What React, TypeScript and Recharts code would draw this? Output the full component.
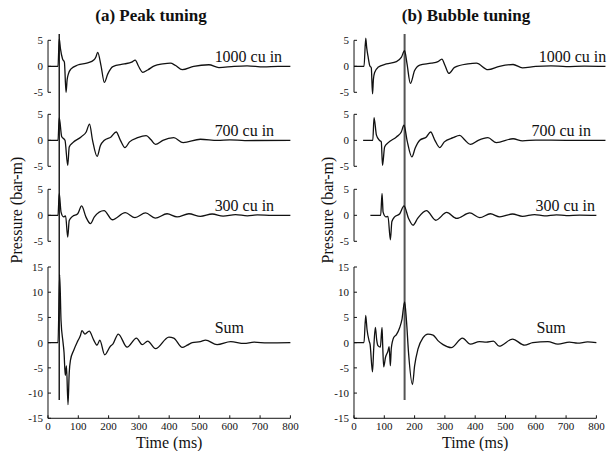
import { LineChart, Line, XAxis, YAxis, ReferenceLine, ReferenceDot } from "recharts";

const FONT = '"Liberation Serif", "Times New Roman", Times, serif';
const INK = "#111";

// ---- traces: time (ms) / pressure (bar-m) ----

// (a) peak tuning
const peak1000Time = [0, 33, 37, 41, 48, 54, 59.5, 63, 67, 76, 98, 131, 151, 158, 164, 175, 186, 197, 214, 252, 276, 288, 298, 313, 329, 351, 379, 404, 420, 443, 481, 531, 564, 614, 657, 712, 760, 800];
const peak1000P = [0, 0, 5.3, 3.4, 1.4, 0.8, -5.0, -2.6, -1.5, -0.5, 0.25, 0.65, 1.2, 1.8, 2.7, 0.1, -3.1, -1.5, -0.05, 0.45, 0.8, 1.2, 0.1, -1.15, -0.7, 0.1, 0.45, 0.6, 0.2, -0.65, 0, 0.3, -0.25, 0, 0.1, -0.1, 0, 0];

const peak700Time = [0, 33, 37, 45, 56, 65, 70, 81, 109, 126, 137, 147, 162, 173, 186, 208, 225, 239, 254, 269, 296, 324, 340, 355, 379, 415, 446, 503, 560, 600, 650, 800];
const peak700P = [0, 0, 4.35, 0.75, 0, -4.8, -1.3, -0.5, 0.65, 1.6, 3.1, 0, -3.1, -1, 0, 0.65, 1.6, 0, -1.4, -0.3, 0.5, 0.9, 0.1, -0.8, 0, 0.5, -0.45, 0.2, 0, 0.1, -0.05, 0];

const peak300Time = [0, 33, 37, 43, 51, 58, 65, 70, 81, 98, 111, 125, 140, 153, 185, 212, 255, 287, 322, 354, 393, 426, 465, 503, 542, 578, 619, 658, 691, 740, 800];
const peak300P = [0, 0, 4.2, 0.6, -0.3, -0.1, -4.2, -1.0, -0.2, 0.3, 1.8, -0.3, -1.6, -0.3, 0.9, -0.85, 0.5, -0.45, 0.45, -0.55, 0.3, -0.3, 0.3, -0.2, 0.25, -0.15, 0.15, -0.1, 0.08, 0, 0];

const peakSumTime = [0, 33, 38.5, 43, 49.5, 53, 57, 61, 66, 70, 74, 85, 98, 107, 112, 122, 136, 151, 162, 171, 187, 206, 214, 232, 261, 292, 311, 329, 355, 399, 415, 443, 460, 476, 503, 520, 558, 603, 647, 680, 724, 800];
const peakSumP = [0, 0, 13.5, 4.4, 0.1, -2, -6.5, -4.6, -12.3, -6, -3.5, -1.5, 0.3, 1.4, 2.4, 1.7, 2.3, 0.5, -0.5, 0.5, -2.4, -0.7, -0.3, 1.7, -0.9, 0.9, -0.4, 0.3, -1.2, 1.1, 0.9, -0.95, -0.5, 0, 0.2, 0.5, -0.4, 0.2, -0.15, 0.1, -0.05, 0];

// (b) bubble tuning
const bubble1000Time = [0, 33, 38.6, 42, 46, 52, 57, 61, 64, 68, 79, 107, 140, 156, 167, 175, 186, 200, 217, 255, 277, 290, 300, 313, 332, 376, 404, 442, 480, 525, 556, 600, 650, 700, 760, 830];
const bubble1000P = [0, 0, 5.4, 3.5, 2.0, 0.1, -0.3, -5.3, -2.5, -1.2, -0.2, 0.45, 0.9, 1.7, 3.0, 0.45, -3.3, -0.8, 0.25, 0.6, 0.9, 1.4, 0.2, -1.35, -0.2, 0.45, 0.6, -0.65, 0, 0.35, -0.3, 0, 0.1, -0.05, 0.05, 0];

const bubble700Time = [30, 62, 66, 74, 84, 90, 94, 101, 112, 140, 156, 165, 175, 191, 202, 217, 239, 253, 267, 283, 298, 327, 349, 365, 384, 410, 442, 470, 525, 556, 600, 700, 830];
const bubble700P = [0, 0, 4.35, 1.0, 0, -0.3, -4.8, -1.3, -0.5, 0.65, 1.6, 2.9, 0, -3.2, -1.5, 0, 0.65, 1.6, 0, -1.4, -0.3, 0.5, 0.95, 0.1, -0.8, 0, 0.5, -0.45, 0.3, -0.1, 0.05, 0, 0];

const bubble300Time = [54, 88, 92.5, 96, 105, 112, 120, 125, 134, 151, 165, 180, 195, 210, 239, 270, 306, 339, 382, 415, 450, 481, 523, 556, 596, 629, 668, 701, 745, 800];
const bubble300P = [0, 0, 4.2, 0.6, -0.3, -0.2, -4.7, -1.2, -0.3, 0.3, 1.8, -0.6, -1.9, -0.6, 0.9, -0.95, 0.55, -0.6, 0.45, -0.45, 0.3, -0.3, 0.25, -0.2, 0.15, -0.1, 0.1, -0.05, 0.05, 0];

const bubbleSumTime = [0, 33, 38.6, 43, 50, 53, 61, 65, 70.5, 75, 79, 87, 92.5, 95, 98, 104, 112, 116, 120, 123, 131, 140, 151, 158, 167, 173, 180, 193, 200, 211, 228, 244, 261, 277, 294, 321, 358, 384, 414, 437, 460, 479, 523, 563, 590, 640, 673, 711, 738, 771, 800];
const bubbleSumP = [0, 0, 5.4, 2.6, 0.3, -0.3, -5.8, -1.3, 3.0, 0.5, -0.6, -0.9, 3.0, -1.0, -4.8, -2.9, -1.7, -0.8, -4.6, -1.2, 1.0, 1.6, 3.0, 4.5, 8.1, 4.5, -2.0, -8.3, -4.6, -1.3, 1.0, 1.7, 1.5, 0.4, -0.4, -1.0, 0.9, -0.3, 0.2, 0.1, 0.3, -0.7, 0.7, -0.5, 0, 0.2, -0.3, 0.1, -0.1, 0.15, 0];

// ---- labels & ticks ----
const PANEL_TITLES = ["(a) Peak tuning", "(b) Bubble tuning"];
const TRACE_NAMES = ["1000 cu in", "700 cu in", "300 cu in", "Sum"];
const peakLabelTime = [550, 550, 550, 550];
const bubbleLabelTime = [610, 586, 599, 602];
const LABEL_LEVEL = [1.9, 1.9, 2.0, 3.1];
const MARKER_TIME = [37, 167];
const TIME_TICKS = [0, 100, 200, 300, 400, 500, 600, 700, 800];
const SMALL_TICKS = [-5, 0, 5];
const SUM_TICKS = [-15, -10, -5, 0, 5, 10, 15];

// ---- layout (pixels) ----
const PX_PER_MS = 0.303;
const PLOT_LEFT = [47.7, 354.3];
const TITLE_X = [151, 466];
const YLABEL_X = [17, 328];
const AXIS_W = 40;
const ZERO_Y = [66, 140.2, 215.1];
const UNIT_PX = 5.2;
const PAD = 6.6;
const SUM_TOP = 266.7;
const SUM_H = 151.3;
const SUM_HEADROOM = 10;
const MARKER_TOP = 34;
const MARKER_BOTTOM = 400;

type Pt = { t: number; p: number };
const pts = (ts: number[], ps: number[]): Pt[] => ts.map((t, i) => ({ t, p: ps[i] }));

const panels = [
  {
    traces: [pts(peak1000Time, peak1000P), pts(peak700Time, peak700P), pts(peak300Time, peak300P), pts(peakSumTime, peakSumP)],
    labelTime: peakLabelTime,
    marker: { color: "#000", width: 1.3 },
  },
  {
    traces: [pts(bubble1000Time, bubble1000P), pts(bubble700Time, bubble700P), pts(bubble300Time, bubble300P), pts(bubbleSumTime, bubbleSumP)],
    labelTime: bubbleLabelTime,
    marker: { color: "#555", width: 2 },
  },
];

const tickStyle = { fontSize: 11, fill: INK, fontFamily: FONT };
const textStyle = { fontSize: 16, fill: INK, fontFamily: FONT };

function Trace({ left, top, plotH, data, name, labelT, labelP, isSum }: {
  left: number; top: number; plotH: number; data: Pt[]; name: string; labelT: number; labelP: number; isSum: boolean;
}) {
  const xMax = Math.max(800, data[data.length - 1].t);
  const plotW = xMax * PX_PER_MS;
  const axisH = isSum ? 36 : 0;
  const headroom = isSum ? SUM_HEADROOM : 0;
  const ticks = isSum ? SUM_TICKS : SMALL_TICKS;
  const domain = isSum ? [-15, 15] : [-PAD, PAD];
  return (
    <div style={{ position: "absolute", left: left - AXIS_W, top: top - headroom }}>
      <LineChart
        width={AXIS_W + plotW + 60}
        height={headroom + plotH + axisH}
        data={data}
        margin={{ top: headroom, right: 60, bottom: 0, left: 0 }}
        style={{ overflow: "visible" }}
      >
        <XAxis
          dataKey="t"
          type="number"
          domain={[0, xMax]}
          ticks={TIME_TICKS}
          interval={0}
          hide={!isSum}
          height={axisH || 30}
          axisLine={{ stroke: INK }}
          tickLine={{ stroke: INK }}
          tickSize={-3}
          tickMargin={7}
          tick={tickStyle}
          label={{ value: "Time (ms)", position: "insideBottom", offset: 6, ...textStyle }}
        />
        <YAxis
          type="number"
          domain={domain}
          ticks={ticks}
          interval={0}
          allowDataOverflow
          width={AXIS_W}
          axisLine={isSum ? { stroke: INK } : false}
          tickLine={{ stroke: INK }}
          tickSize={-3}
          tickMargin={8}
          tick={tickStyle}
        />
        {!isSum && (
          <ReferenceLine
            segment={[{ x: 0, y: ticks[0] }, { x: 0, y: ticks[ticks.length - 1] }]}
            stroke={INK}
          />
        )}
        <Line
          dataKey="p"
          type="monotone"
          stroke={INK}
          strokeWidth={1.3}
          dot={false}
          isAnimationActive={false}
        />
        <ReferenceDot
          x={labelT}
          y={labelP}
          r={0}
          fill="none"
          stroke="none"
          label={{ value: name, position: "right", offset: 0, ...textStyle }}
        />
      </LineChart>
    </div>
  );
}

function Marker({ left, t, color, width }: { left: number; t: number; color: string; width: number }) {
  return (
    <div style={{ position: "absolute", left, top: MARKER_TOP }}>
      <LineChart
        width={800 * PX_PER_MS}
        height={MARKER_BOTTOM - MARKER_TOP}
        data={[{ t }]}
        margin={{ top: 0, right: 0, bottom: 0, left: 0 }}
      >
        <XAxis dataKey="t" type="number" domain={[0, 800]} hide allowDataOverflow />
        <YAxis type="number" domain={[0, 1]} hide allowDataOverflow />
        <ReferenceLine x={t} stroke={color} strokeWidth={width} />
      </LineChart>
    </div>
  );
}

export default function App() {
  return (
    <div
      style={{
        position: "absolute",
        left: 0,
        top: 0,
        width: 608,
        height: 451,
        background: "#fff",
        fontFamily: FONT,
        color: INK,
        overflow: "hidden",
      }}
    >
      <style>{`.recharts-text { font-family: ${FONT}; }`}</style>
      {panels.map((panel, i) => {
        const plotLeft = PLOT_LEFT[i];
        return (
          <div key={i}>
            <Marker left={plotLeft} t={MARKER_TIME[i]} color={panel.marker.color} width={panel.marker.width} />
            {panel.traces.map((data, k) => {
              const isSum = k === 3;
              const top = isSum ? SUM_TOP : ZERO_Y[k] - PAD * UNIT_PX;
              const plotH = isSum ? SUM_H : 2 * PAD * UNIT_PX;
              return (
                <Trace
                  key={k}
                  left={plotLeft}
                  top={top}
                  plotH={plotH}
                  data={data}
                  name={TRACE_NAMES[k]}
                  labelT={panel.labelTime[k]}
                  labelP={LABEL_LEVEL[k]}
                  isSum={isSum}
                />
              );
            })}
            <div
              style={{
                position: "absolute",
                left: TITLE_X[i],
                top: 16,
                transform: "translate(-50%, -50%)",
                fontWeight: "bold",
                fontSize: 17,
                whiteSpace: "nowrap",
              }}
            >
              {PANEL_TITLES[i]}
            </div>
            <div
              style={{
                position: "absolute",
                left: YLABEL_X[i],
                top: 210,
                transform: "translate(-50%, -50%) rotate(-90deg)",
                fontSize: 16,
                whiteSpace: "nowrap",
              }}
            >
              Pressure (bar-m)
            </div>
          </div>
        );
      })}
    </div>
  );
}
